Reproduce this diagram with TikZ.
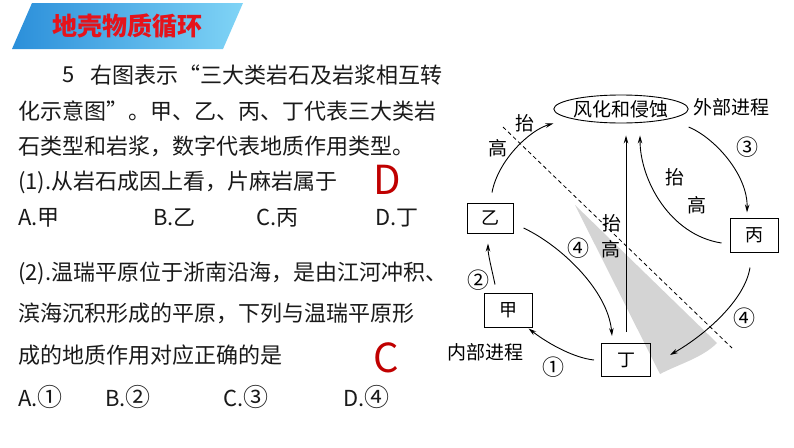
\documentclass[tikz,border=0pt]{standalone}
\usepackage{fontspec}
\setmainfont{Noto Sans CJK SC}
\usetikzlibrary{arrows.meta,shapes.geometric,calc}
\definecolor{txt}{HTML}{1A1A1A}
\definecolor{ansred}{HTML}{C00000}
\definecolor{ttlred}{HTML}{E5131B}
\definecolor{bandL}{HTML}{2B8FDA}
\definecolor{bandR}{HTML}{80D4F6}
\definecolor{wedgegray}{HTML}{D4D4D4}
\tikzset{
  body/.style={anchor=west, inner sep=0pt, text=txt, font=\fontsize{22}{22}\selectfont},
  ans/.style={anchor=west, inner sep=0pt, text=ansred, font=\fontsize{40}{40}\selectfont},
  lbl/.style={inner sep=0pt, text=black, font=\fontsize{19}{19}\selectfont},
  circnum/.style={inner sep=0pt, text=black, font=\fontsize{22}{22}\selectfont},
  rockbox/.style={draw, line width=1pt, inner sep=0pt, font=\fontsize{18}{18}\selectfont},
  conn/.style={line width=0.9pt, -{Stealth[length=8pt,width=4.5pt]}},
}
\newcommand{\optcirc}[1]{{\fontsize{25}{25}\selectfont #1}}
\begin{document}
\begin{tikzpicture}[x=1pt,y=-1pt]
\useasboundingbox (0,0) rectangle (794,447);
\fill[white] (0,0) rectangle (794,447);

% header band
\shade[left color=bandL, right color=bandR] (32,3) -- (243,3) -- (223,49) -- (12,49) -- cycle;
\node[inner sep=0pt, text=ttlred, font=\fontsize{25}{25}\selectfont\bfseries] (title) at (127,26) {地壳物质循环};

% question text
\node[body] (n5) at (62,75) {5};
\node[body] (l1) at (90,75) {右图表示“三大类岩石及岩浆相互转};
\node[body] (l2) at (18,111) {化示意图”。甲、乙、丙、丁代表三大类岩};
\node[body] (l3) at (18,146) {石类型和岩浆，数字代表地质作用类型。};
\node[body] (l4) at (18,182) {(1).从岩石成因上看，片麻岩属于};
\node[ans] (ansD) at (373,180) {D};
\node[body] (o1a) at (18,218) {A.甲};
\node[body] (o1b) at (153,218) {B.乙};
\node[body] (o1c) at (256,218) {C.丙};
\node[body] (o1d) at (375,218) {D.丁};
\node[body] (l6) at (18,273) {(2).温瑞平原位于浙南沿海，是由江河冲积、};
\node[body] (l7) at (18,313) {滨海沉积形成的平原，下列与温瑞平原形};
\node[body] (l8) at (18,355) {成的地质作用对应正确的是};
\node[ans] (ansC) at (373,358) {C};
\node[body] (o2a) at (18,397) {A.\optcirc{①}};
\node[body] (o2b) at (105,397) {B.\optcirc{②}};
\node[body] (o2c) at (223,397) {C.\optcirc{③}};
\node[body] (o2d) at (343,397) {D.\optcirc{④}};

% gray wedge
\fill[wedgegray] (575,205) -- (717,343) .. controls (702,358) and (679,364) .. (660,374) -- cycle;

% diagram nodes
\node[draw, ellipse, line width=0.9pt, minimum width=132pt, minimum height=28pt, inner sep=0pt,
      font=\fontsize{19}{19}\selectfont] (ell) at (621,109) {风化和侵蚀};
\node[lbl] (ext) at (731,107) {外部进程};
\node[lbl] (int) at (485,352) {内部进程};
\node[rockbox, minimum width=46pt, minimum height=30pt] (yi) at (490,218) {乙};
\node[rockbox, minimum width=48pt, minimum height=34pt] (bing) at (754,235) {丙};
\node[rockbox, minimum width=48pt, minimum height=34pt] (jia) at (508,310) {甲};
\node[rockbox, minimum width=49pt, minimum height=33pt] (ding) at (626,360) {丁};

% dashed line
\coordinate (d1) at (503,127);
\coordinate (d2) at (732,348);
\draw[line width=0.8pt, dash pattern=on 4pt off 3pt] (d1) -- (d2);

% connector end points
\coordinate (a1s) at ($(yi.north)+(2,-10)$);
\coordinate (a1e) at (ell.west |- ell.south);
\coordinate (a2s) at ($(ell.east)+(0,18)$);
\coordinate (a2e) at ($(bing.north)+(-7,-5)$);
\coordinate (a3s) at ($(bing.west)+(-8,8)$);
\coordinate (a3e) at ($(ell.south)+(19,12)$);
\coordinate (a4s) at ($(yi.east)+(10,10)$);
\coordinate (a4e) at ($(ding.north)+(-14,-7)$);
\coordinate (a5s) at ($(bing.south)+(-4,15)$);
\coordinate (a5e) at ($(ding.east)+(19,-5)$);
\coordinate (a6s) at ($(ding.west)+(-7,0)$);
\coordinate (a6e) at ($(jia.south east)+(-4,1)$);
\coordinate (a7s) at ($(jia.north)+(-13,-8)$);
\coordinate (a7e) at ($(yi.south)+(-2,10)$);
\coordinate (a8s) at ($(ding.north)+(0,-11)$);
\coordinate (a8e) at ($(ding.north |- ell.south)+(0,12)$);

% connectors
\draw[conn] (a1s) .. controls (498,160) and (530,130) .. (a1e);
\draw[conn] (a2s) .. controls (715,138) and (748,175) .. (a2e);
\draw[conn] (a3s) .. controls (670,235) and (640,180) .. (a3e);
\draw[conn] (a4s) .. controls (560,245) and (608,290) .. (a4e);
\draw[conn] (a5s) .. controls (745,300) and (705,335) .. (a5e);
\draw[conn] (a6s) .. controls (575,358) and (550,345) .. (a6e);
\draw[conn] (a7s) .. controls (492,270) and (488,255) .. (a7e);
\draw[conn] (a8s) -- (a8e);

% diagram labels
\node[lbl] (t1) at (525,123) {抬};
\node[lbl] (g1) at (498,148) {高};
\node[lbl] (t2) at (675,177) {抬};
\node[lbl] (g2) at (697,205) {高};
\node[lbl] (t3) at (612,223) {抬};
\node[lbl] (g3) at (611,249) {高};
\node[circnum] (c1) at (553,367) {①};
\node[circnum] (c2) at (478,280) {②};
\node[circnum] (c3) at (747,147) {③};
\node[circnum] (c4a) at (578,248) {④};
\node[circnum] (c4b) at (744,318) {④};
\end{tikzpicture}
\end{document}
